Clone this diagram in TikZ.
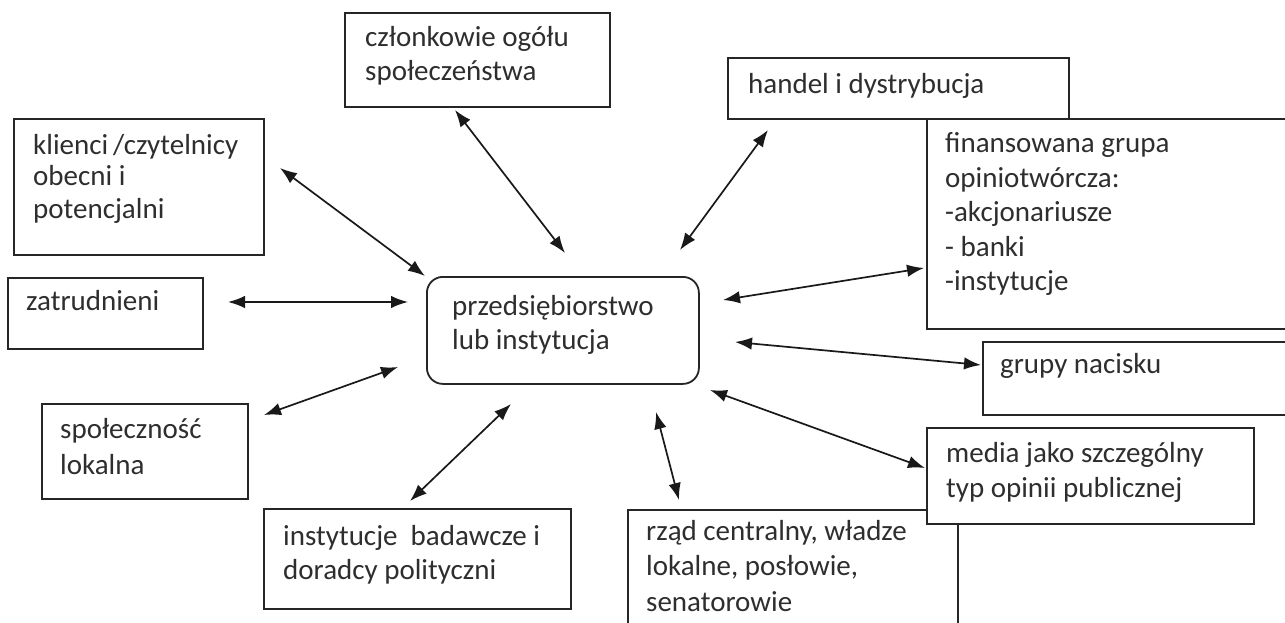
\documentclass[tikz,border=0pt]{standalone}
\usepackage{fontspec}
\setmainfont{Carlito}
\usetikzlibrary{arrows.meta}
\begin{document}
\begin{tikzpicture}[x=1pt,y=-1pt,
  box/.style={draw=black!85, line width=1.8pt, anchor=north west, inner sep=0pt},
  txt/.style={anchor=base west, inner sep=0pt, text=black!82, font=\fontsize{29}{34}\selectfont},
  arr/.style={{Latex[length=17pt,width=12.5pt]}-{Latex[length=17pt,width=12.5pt]}, line width=1.7pt, draw=black!90}]
\clip (0,0) rectangle (1285,623);
\fill[white] (0,0) rectangle (1285,623);
% boxes
\node[box, minimum width=265pt, minimum height=94pt] (czl) at (344,12) {};
\node[box, minimum width=341pt, minimum height=61pt] (han) at (727,57) {};
\node[box, minimum width=250pt, minimum height=136pt] (kli) at (13,118) {};
\node[box, minimum width=195pt, minimum height=71pt] (zat) at (7,277) {};
\node[box, minimum width=360pt, minimum height=210pt, fill=white] (fin) at (926,118) {};
\node[box, minimum width=305pt, minimum height=73pt] (gru) at (982,341) {};
\node[box, minimum width=330pt, minimum height=130pt] (rza) at (627,509) {};
\node[box, minimum width=327pt, minimum height=96pt, fill=white] (med) at (926,427) {};
\node[box, minimum width=206pt, minimum height=95pt] (spo) at (41,403) {};
\node[box, minimum width=307pt, minimum height=100pt] (ins) at (263,508) {};
\node[box, rounded corners=16pt, minimum width=272pt, minimum height=107pt] (cen) at (426,276) {};
% texts
\node[txt] (tczl) at (365,47) {\parbox[t]{400pt}{członkowie ogółu\\społeczeństwa}};
\node[txt] (than) at (748,94) {handel i dystrybucja};
\node[txt] (tkli) at (33,154) {\parbox[t]{400pt}{\fontsize{29}{32}\selectfont klienci\,/czytelnicy\\obecni i\\potencjalni}};
\node[txt] (tzat) at (26,310) {zatrudnieni};
\node[txt] (tcen) at (452,315) {\parbox[t]{400pt}{przedsiębiorstwo\\lub instytucja}};
\node[txt] (tfin) at (945,153) {\parbox[t]{400pt}{\fontsize{29}{34.5}\selectfont finansowana grupa\\opiniotwórcza:\\-akcjonariusze\\- banki\\-instytucje}};
\node[txt] (tgru) at (1000,373) {grupy nacisku};
\node[txt] (tmed) at (946,462) {\parbox[t]{400pt}{\fontsize{29}{35}\selectfont media jako szczególny\\typ opinii publicznej}};
\node[txt] (trza) at (646,540) {\parbox[t]{400pt}{\fontsize{29}{35.5}\selectfont rząd centralny, władze\\lokalne, posłowie,\\senatorowie}};
\node[txt] (tspo) at (60,438) {\parbox[t]{400pt}{\fontsize{29}{36}\selectfont społeczność\\lokalna}};
\node[txt] (tins) at (283,545) {\parbox[t]{400pt}{instytucje\ \ badawcze i\\doradcy polityczni}};
% arrow end points
\coordinate (a1) at (280,168); \coordinate (b1) at (425,276);
\coordinate (a2) at (455,110); \coordinate (b2) at (565,253);
\coordinate (a3) at (768,130); \coordinate (b3) at (680,250);
\coordinate (a4) at (228,302); \coordinate (b4) at (408,302);
\coordinate (a5) at (924,268); \coordinate (b5) at (723,300);
\coordinate (a6) at (981,365); \coordinate (b6) at (735,342);
\coordinate (a7) at (264,415); \coordinate (b7) at (398,367);
\coordinate (a8) at (410,501); \coordinate (b8) at (511,404);
\coordinate (a9) at (679,500); \coordinate (b9) at (656,412);
\coordinate (a10) at (925,468); \coordinate (b10) at (710,390);
\foreach \i in {1,...,10} \draw[arr] (a\i) -- (b\i);
\end{tikzpicture}
\end{document}
